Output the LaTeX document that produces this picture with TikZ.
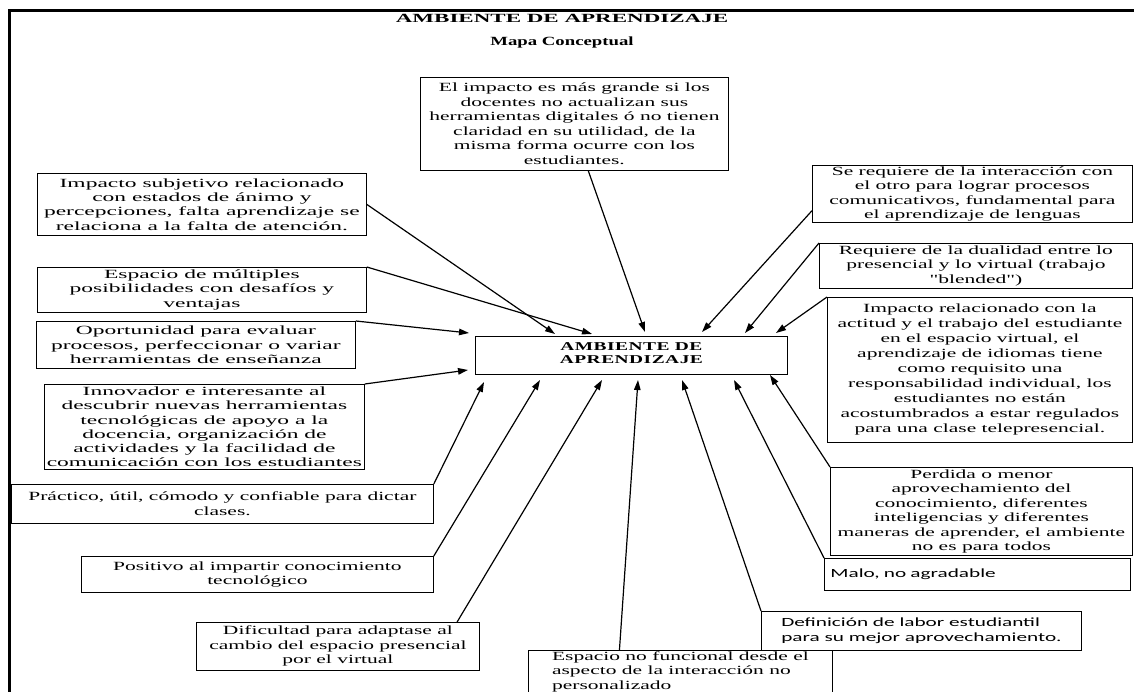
\documentclass[tikz,border=0pt]{standalone}
\usepackage{fontspec}
\setmainfont{Liberation Serif}[FakeStretch=1.72]
\newfontfamily\fL{Liberation Serif}[FakeStretch=1.88]
\newfontfamily\fM{Liberation Serif}[FakeStretch=1.72]
\newfontfamily\fMq{Liberation Serif}[FakeStretch=1.72,Ligatures=TeXOff]
\newfontfamily\fB{Liberation Serif}[FakeStretch=1.84]
\newfontfamily\fBs{Liberation Serif}[FakeStretch=1.5]
\newfontfamily\fC{Liberation Serif}[FakeStretch=1.62,LetterSpace=4]
\newfontfamily\fS{Carlito}[FakeStretch=1.7]
\usetikzlibrary{arrows.meta,calc}
\begin{document}
\begin{tikzpicture}[x=1pt,y=-1pt,
  box/.style={draw, line width=0.8pt, align=center, inner sep=0pt, anchor=north west},
  lbox/.style={draw, line width=0.8pt, align=left, inner ysep=1pt, anchor=north west},
  fl/.style={font=\fL\fontsize{12.5}{14.3}\selectfont},
  fm/.style={font=\fM\fontsize{12.5}{14.5}\selectfont},
  fs/.style={font=\fS\fontsize{12.5}{15}\selectfont},
  conn/.style={-{Triangle[length=10pt,width=6.5pt]}, line width=1.2pt}]
\useasboundingbox (0,0) rectangle (1134,692);
% frame
\draw[line width=3pt] (9.5,692) -- (9.5,10.5) -- (1134,10.5);
% titles
\node[font=\fB\fontsize{12.5}{14}\selectfont\bfseries] (title) at (562,18) {AMBIENTE DE APRENDIZAJE};
\node[font=\fBs\fontsize{12.5}{14}\selectfont\bfseries] (sub) at (562,42) {Mapa Conceptual};
% center
\node[box, minimum width=312pt, minimum height=38pt, inner ysep=0pt, font=\fC\fontsize{12}{13}\selectfont\bfseries] (C) at (475,336)
  {AMBIENTE DE\\APRENDIZAJE\rule[-5pt]{0pt}{5pt}};
% top
\node[box, fm, minimum width=308pt, minimum height=93pt] (T) at (420,77)
  {El impacto es más grande si los\\docentes no actualizan sus\\herramientas digitales ó no tienen\\claridad en su utilidad, de la\\misma forma ocurre con los\\estudiantes.};
% left
\node[box, fl, minimum width=329pt, minimum height=62pt] (L1) at (37,173)
  {Impacto subjetivo relacionado\\con estados de ánimo y\\percepciones, falta aprendizaje se\\relaciona a la falta de atención.};
\node[box, fl, minimum width=329pt, minimum height=45pt] (L2) at (37,267)
  {Espacio de múltiples\\posibilidades con desafíos y\\ventajas};
\node[box, fl, minimum width=319pt, minimum height=47pt] (L3) at (36,321)
  {Oportunidad para evaluar\\procesos, perfeccionar o variar\\herramientas de enseñanza};
\node[box, fl, minimum width=320pt, minimum height=85pt] (L4) at (44,384)
  {Innovador e interesante al\\descubrir nuevas herramientas\\tecnológicas de apoyo a la\\docencia, organización de\\actividades y la facilidad de\\comunicación con los estudiantes};
\node[box, fm, minimum width=422pt, minimum height=39pt] (L5) at (11,484)
  {Práctico, útil, cómodo y confiable para dictar\\clases.};
\node[box, fm, minimum width=352pt, minimum height=36pt] (L6) at (81,556)
  {Positivo al impartir conocimiento\\tecnológico};
\node[box, fm, minimum width=283pt, minimum height=48pt] (L7) at (196,622)
  {Dificultad para adaptase al\\cambio del espacio presencial\\por el virtual};
% bottom
\node[lbox, fm, minimum width=304pt, inner xsep=13pt, text depth=5pt] (B1) at (528,650)
  {Espacio no funcional desde el\\aspecto de la interacción no\\personalizado};
\node[lbox, fs, minimum width=320pt, minimum height=39pt, inner xsep=15pt] (B2) at (761,611)
  {Definición de labor estudiantil\\para su mejor aprovechamiento.};
\node[lbox, fs, minimum width=306pt, minimum height=32pt, inner xsep=6pt, text width=294pt] (B3) at (824,558)
  {Malo, no agradable};
% right
\node[box, fm, minimum width=302pt, minimum height=88pt] (R4) at (830,467)
  {Perdida o menor\\aprovechamiento del\\conocimiento, diferentes\\inteligencias y diferentes\\maneras de aprender, el ambiente\\no es para todos};
\node[box, minimum width=305pt, minimum height=145pt, font=\fM\fontsize{12.5}{15}\selectfont] (R3) at (827,297)
  {Impacto relacionado con la\\actitud y el trabajo del estudiante\\en el espacio virtual, el\\aprendizaje de idiomas tiene\\como requisito una\\responsabilidad individual, los\\estudiantes no están\\acostumbrados a estar regulados\\para una clase telepresencial.};
\node[box, minimum width=313pt, minimum height=45pt, font=\fMq\fontsize{12.5}{14.5}\selectfont] (R2) at (819,243)
  {Requiere de la dualidad entre lo\\presencial y lo virtual (trabajo\\"blended")};
\node[box, fm, minimum width=320pt, minimum height=57pt] (R1) at (812,165)
  {Se requiere de la interacción con\\el otro para lograr procesos\\comunicativos, fundamental para\\el aprendizaje de lenguas};
% arrow tips near the centre box
\coordinate (tL1) at (555,334);
\coordinate (tL2) at (592,334);
\coordinate (tL3) at (469,333);
\coordinate (tL4) at (468,370);
\coordinate (tL5) at (484,382);
\coordinate (tL6) at (540,380);
\coordinate (tL7) at (602,380);
\coordinate (tB1) at (638,380);
\coordinate (tB2) at (682,380);
\coordinate (tB3) at (734,380);
\coordinate (tR4) at (770,375);
\coordinate (tR3) at (776,333);
\coordinate (tR2) at (745,333);
\coordinate (tR1) at (702,332);
\coordinate (tT) at (645,332);
% connectors
\draw[conn] (L1.east) -- (tL1);
\draw[conn] (L2.north east) -- (tL2);
\draw[conn] (L3.north east) -- (tL3);
\draw[conn] (L4.north east) -- (tL4);
\draw[conn] (L5.north east) -- (tL5);
\draw[conn] (L6.north east) -- (tL6);
\draw[conn] ($(L7.north west)!0.92!(L7.north east)$) -- (tL7);
\draw[conn] ($(B1.north west)!0.3!(B1.north east)$) -- (tB1);
\draw[conn] (B2.north west) -- (tB2);
\draw[conn] (B3.north west) -- (tB3);
\draw[conn] (R4.north west) -- (tR4);
\draw[conn] (R3.north west) -- (tR3);
\draw[conn] (R2.north west) -- (tR2);
\draw[conn] ($(R1.north west)!0.79!(R1.south west)$) -- (tR1);
\draw[conn] ($(T.south west)!0.545!(T.south east)$) -- (tT);
\end{tikzpicture}
\end{document}
